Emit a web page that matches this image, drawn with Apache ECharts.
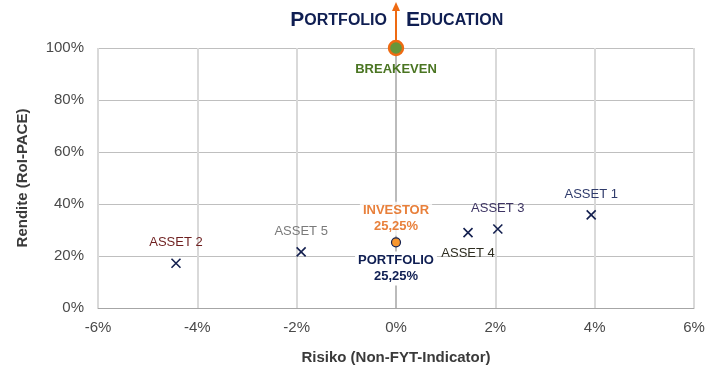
<!DOCTYPE html>
<html>
<head>
<meta charset="utf-8">
<script src="https://cdn.jsdelivr.net/npm/echarts@6/dist/echarts.min.js"></script>
<style>
html,body{margin:0;padding:0;background:#fff;}
#c{width:720px;height:383px;}
</style>
</head>
<body>
<div id="c"></div>
<script>
// ---- data ----
const assetNames = ['ASSET 1', 'ASSET 2', 'ASSET 3', 'ASSET 4', 'ASSET 5'];
const assetRisk = [3.93, -4.43, 2.05, 1.45, -1.91];      // %
const assetReturn = [35.8, 17.2, 30.4, 29.0, 21.6];     // %
const portfolioPoint = [0, 25.25];
const investorPoint = [0, 25.25];
const breakevenPoint = [0, 100];
const xTicks = [-6, -4, -2, 0, 2, 4, 6];
const yTicks = [0, 20, 40, 60, 80, 100];

// ---- styles (not data) ----
const assetStyle = [
  {color: '#2f3b6b', pos: 'top'},
  {color: '#6e1f1f', pos: 'top'},
  {color: '#3d3463', pos: 'top'},
  {color: '#2e2d20', pos: 'bottom'},
  {color: '#7a7a7a', pos: 'top'}
];
const FONT = '"Liberation Sans", Arial, sans-serif';

const chart = echarts.init(document.getElementById('c'));
const fmt = v => String(v).replace('.', ',');

const option = {
  animation: false,
  textStyle: {fontFamily: FONT},
  grid: {left: 98, right: 26, top: 48, bottom: 75},
  xAxis: {
    type: 'value', min: xTicks[0], max: xTicks[xTicks.length - 1], interval: 2,
    name: 'Risiko (Non-FYT-Indicator)', nameLocation: 'middle', nameGap: 42,
    nameTextStyle: {fontFamily: FONT, fontSize: 15, fontWeight: 'bold', color: '#3a3a3a'},
    axisLine: {onZero: false, lineStyle: {color: '#a6a6a6', width: 1}},
    axisTick: {show: false},
    axisLabel: {formatter: v => v + '%', fontFamily: FONT, fontSize: 15, color: '#4a4a4a', margin: 12},
    splitLine: {show: true, lineStyle: {color: '#d9d9d9', width: 2}}
  },
  yAxis: {
    type: 'value', min: yTicks[0], max: yTicks[yTicks.length - 1], interval: 20,
    name: 'Rendite (RoI-PACE)', nameLocation: 'middle', nameGap: 68, nameRotate: 90,
    nameTextStyle: {fontFamily: FONT, fontSize: 15, fontWeight: 'bold', color: '#3a3a3a'},
    axisLine: {show: false},
    axisTick: {show: false},
    axisLabel: {formatter: v => v + '%', fontFamily: FONT, fontSize: 15, color: '#4a4a4a', margin: 14},
    splitLine: {show: true, lineStyle: {color: '#bfbfbf', width: 1}}
  },
  series: [
    {
      type: 'scatter', data: [], z: 1,
      markLine: {
        silent: true, symbol: 'none', label: {show: false}, z: 1,
        lineStyle: {color: '#b0b0b0', width: 1.5, type: 'solid'},
        data: [{xAxis: 0}]
      }
    },
    {
      type: 'scatter',
      symbol: 'path://M0,0 L10,10 M10,0 L0,10',
      symbolSize: 9,
      itemStyle: {color: 'none', borderColor: '#14204f', borderWidth: 1.6, opacity: 1},
      data: assetNames.map((n, i) => ({
        name: n,
        value: [assetRisk[i], assetReturn[i]],
        label: {
          show: true, position: assetStyle[i].pos, distance: 7,
          formatter: n, color: assetStyle[i].color, fontSize: 13, fontFamily: FONT
        }
      })),
      z: 3
    },
    {
      type: 'scatter',
      symbol: 'circle', symbolSize: 9,
      itemStyle: {color: '#f7962e', borderColor: '#14204f', borderWidth: 1.2, opacity: 1},
      data: [{
        value: portfolioPoint,
        label: {
          show: true, position: 'bottom', distance: 4,
          formatter: 'PORTFOLIO\n' + fmt(portfolioPoint[1]) + '%',
          color: '#0f1e52', fontWeight: 'bold', fontSize: 13, fontFamily: FONT,
          lineHeight: 16, backgroundColor: '#fff', padding: [1, 3]
        }
      }],
      z: 4
    },
    {
      type: 'scatter',
      symbol: 'circle', symbolSize: 9,
      itemStyle: {color: 'rgba(0,0,0,0)', borderWidth: 0},
      data: [{
        value: investorPoint,
        label: {
          show: true, position: 'top', distance: 2,
          formatter: 'INVESTOR\n' + fmt(investorPoint[1]) + '%',
          color: '#e2600a', fontWeight: 'bold', fontSize: 13, fontFamily: FONT,
          lineHeight: 16, backgroundColor: '#fff', padding: [1, 3]
        }
      }],
      z: 4
    },
    {
      type: 'scatter',
      symbol: 'circle', symbolSize: 14,
      itemStyle: {color: '#65963a', borderColor: '#ee6a12', borderWidth: 2.4, opacity: 1},
      data: [{
        value: breakevenPoint,
        label: {
          show: true, position: 'bottom', distance: 7,
          formatter: 'BREAKEVEN', color: '#4a7522', fontWeight: 'bold', fontSize: 13, fontFamily: FONT
        }
      }],
      z: 5
    }
  ]
};
chart.setOption(option);

// title + arrow positioned above the breakeven point
const bp = chart.convertToPixel({gridIndex: 0}, breakevenPoint);
const navy = '#0f1e52';
chart.setOption({
  graphic: [
    {
      type: 'text', right: 720 - bp[0] + 9, top: 10,
      style: {
        text: '{b|P}{s|ORTFOLIO}',
        rich: {
          b: {fontSize: 21, fontWeight: 'bold', fill: navy, fontFamily: FONT},
          s: {fontSize: 16, fontWeight: 'bold', fill: navy, fontFamily: FONT}
        }
      }
    },
    {
      type: 'text', left: bp[0] + 10, top: 10,
      style: {
        text: '{b|E}{s|DUCATION}',
        rich: {
          b: {fontSize: 21, fontWeight: 'bold', fill: navy, fontFamily: FONT},
          s: {fontSize: 16, fontWeight: 'bold', fill: navy, fontFamily: FONT}
        }
      }
    },
    {
      type: 'line', shape: {x1: bp[0], y1: bp[1] - 8, x2: bp[0], y2: 9},
      style: {stroke: '#ee6a12', lineWidth: 2}
    },
    {
      type: 'polygon', shape: {points: [[bp[0] - 4, 11], [bp[0] + 4, 11], [bp[0], 2]]},
      style: {fill: '#ee6a12'}
    }
  ]
});
</script>
</body>
</html>
